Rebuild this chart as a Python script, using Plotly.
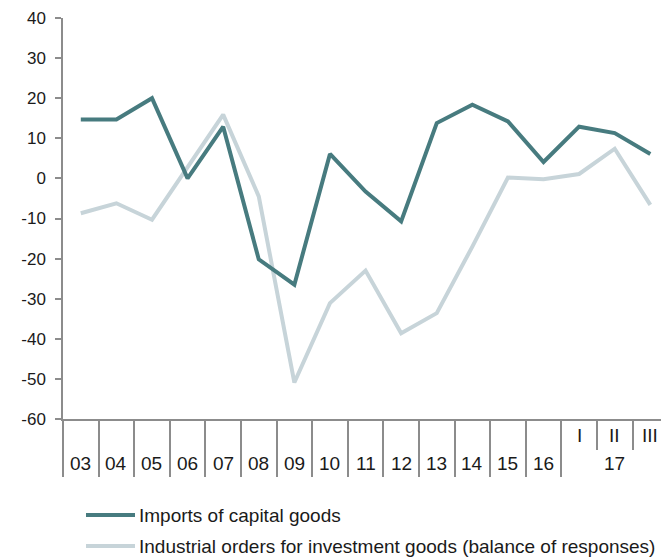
import plotly.graph_objects as go


DARK_COLOR = "#477B7F"
LIGHT_COLOR = "#C7D4D9"
AXIS_COLOR = "#8C8C8C"
TEXT_COLOR = "#1A1A1A"
FONT = "Liberation Sans, Arial, sans-serif"

periods = ["03", "04", "05", "06", "07", "08", "09", "10", "11", "12",
           "13", "14", "15", "16", "17 I", "17 II", "17 III"]
year_labels = ["03", "04", "05", "06", "07", "08", "09", "10", "11", "12",
               "13", "14", "15", "16"]
quarter_labels = ["I", "II", "III"]
quarter_year = "17"

imports = [14.7, 14.7, 20.0, 0.0, 12.9, -20.2, -26.5, 6.1, -3.3, -10.7,
           13.8, 18.4, 14.2, 4.1, 12.9, 11.3, 6.1]
orders = [-8.7, -6.2, -10.3, 3.0, 15.9, -4.5, -50.9, -31.1, -23.0, -38.6,
          -33.6, -17.0, 0.2, -0.2, 1.1, 7.4, -6.6]

y_ticks = [40, 30, 20, 10, 0, -10, -20, -30, -40, -50, -60]
y_tick_labels = ["40", "30", "20", "10", "0", "-10", "-20", "-30", "-40", "-50", "-60"]

series_names = ["Imports of capital goods",
                "Industrial orders for investment goods (balance of responses)"]

x = list(range(len(periods)))
n_years = len(year_labels)

fig = go.Figure()

fig.add_trace(
    go.Scatter(
        x=x,
        y=orders,
        mode="lines",
        name=series_names[1],
        line={"color": LIGHT_COLOR, "width": 4},
        showlegend=False,
    )
)

fig.add_trace(
    go.Scatter(
        x=x,
        y=imports,
        mode="lines",
        name=series_names[0],
        line={"color": DARK_COLOR, "width": 4},
        showlegend=False,
    )
)

annotations = []
for i, lab in enumerate(year_labels):
    annotations.append(dict(
        x=i, xref="x", y=0, yref="paper", yshift=-44,
        text=lab, showarrow=False, xanchor="center", yanchor="middle",
        font={"size": 19, "color": TEXT_COLOR},
    ))
for j, lab in enumerate(quarter_labels):
    annotations.append(dict(
        x=n_years + j, xref="x", y=0, yref="paper", yshift=-16,
        text=lab, showarrow=False, xanchor="center", yanchor="middle",
        font={"size": 19, "color": TEXT_COLOR},
    ))
annotations.append(dict(
    x=n_years + (len(quarter_labels) - 1) / 2, xref="x", y=0, yref="paper",
    yshift=-44, text=quarter_year, showarrow=False, xanchor="center",
    yanchor="middle", font={"size": 19, "color": TEXT_COLOR},
))

# manual legend, longer line samples than plotly's default
shapes = []
legend_rows = [(series_names[0], DARK_COLOR, -96), (series_names[1], LIGHT_COLOR, -127)]
for name, color, dy in legend_rows:
    shapes.append(dict(
        type="line", xref="paper", yref="paper",
        xsizemode="pixel", ysizemode="pixel", xanchor=0, yanchor=0,
        x0=23, x1=72, y0=dy, y1=dy,
        line={"color": color, "width": 4},
    ))
    annotations.append(dict(
        x=0, xref="paper", xshift=74, y=0, yref="paper", yshift=dy,
        text=name, showarrow=False, xanchor="left", yanchor="middle",
        font={"size": 19, "color": TEXT_COLOR},
    ))

fig.update_layout(
    width=661,
    height=557,
    margin={"l": 63, "r": 0, "t": 18, "b": 138},
    paper_bgcolor="white",
    plot_bgcolor="white",
    font={"family": FONT, "color": TEXT_COLOR},
    showlegend=False,
    annotations=annotations,
    shapes=shapes,
)

fig.update_xaxes(
    range=[-0.5, 16.3],
    showgrid=False,
    zeroline=False,
    showline=True,
    linecolor=AXIS_COLOR,
    linewidth=1.5,
    tickmode="array",
    tickvals=[i - 0.5 for i in range(n_years + 1)],
    ticktext=["" for _ in range(n_years + 1)],
    ticks="outside",
    ticklen=56,
    tickwidth=1.5,
    tickcolor=AXIS_COLOR,
    showticklabels=False,
    minor={
        "tickmode": "array",
        "tickvals": [n_years + j + 0.5 for j in range(len(quarter_labels) - 1)],
        "ticks": "outside",
        "ticklen": 29,
        "tickwidth": 1.5,
        "tickcolor": AXIS_COLOR,
        "showgrid": False,
    },
)

fig.update_yaxes(
    range=[-60, 40],
    tickmode="array",
    tickvals=y_ticks,
    ticktext=y_tick_labels,
    showgrid=False,
    zeroline=False,
    showline=True,
    linecolor=AXIS_COLOR,
    linewidth=1.5,
    ticks="outside",
    ticklen=6,
    tickwidth=1.5,
    tickcolor=AXIS_COLOR,
    ticklabelstandoff=6,
    tickfont={"size": 17, "color": TEXT_COLOR},
)

fig.write_html(
    "out.html",
    config={"displayModeBar": False},
    post_script="document.body.style.margin = '0';",
)
